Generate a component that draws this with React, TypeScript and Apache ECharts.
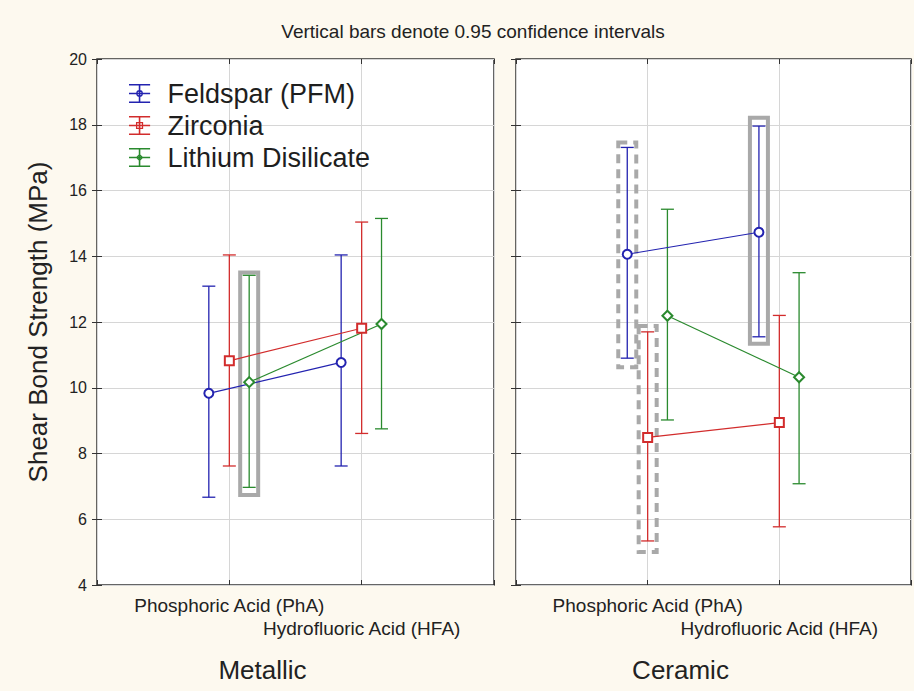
import React, { useEffect, useRef } from "react";
import * as echarts from "echarts";

// ---------- data ----------
const categories = ["Phosphoric Acid (PhA)", "Hydrofluoric Acid (HFA)"];
const panels = ["Metallic", "Ceramic"];
const materials = ["Feldspar (PFM)", "Zirconia", "Lithium Disilicate"];

// [panel][category]
const feldsparMean = [[9.83, 10.77], [14.06, 14.73]];
const feldsparLow = [[6.67, 7.62], [10.9, 11.55]];
const feldsparHigh = [[13.09, 14.04], [17.31, 17.96]];

const zirconiaMean = [[10.82, 11.81], [8.49, 8.94]];
const zirconiaLow = [[7.62, 8.61], [5.34, 5.77]];
const zirconiaHigh = [[14.04, 15.04], [11.7, 12.2]];

const lithiumMean = [[10.17, 11.94], [12.19, 10.32]];
const lithiumLow = [[6.97, 8.75], [9.02, 7.08]];
const lithiumHigh = [[13.42, 15.15], [15.43, 13.5]];

const yTicks = [4, 6, 8, 10, 12, 14, 16, 18, 20];

// highlight boxes: panel, category, material, top, bottom (MPa)
const highlightPanel = [0, 1, 1, 1];
const highlightCategory = [0, 1, 0, 0];
const highlightMaterial = [2, 0, 0, 1];
const highlightTop = [13.57, 18.27, 17.52, 11.94];
const highlightBottom = [6.68, 11.28, 10.56, 4.94];
const highlightDashed = [false, false, true, true];

// ---------- styling ----------
const colors = ["#2323b0", "#d22c2c", "#2a8a2e"];
const symbols = ["emptyCircle", "emptyRect", "emptyDiamond"];
const offsets = [-0.155, 0, 0.15];
const FONT = "'Liberation Sans', Arial, sans-serif";

const capsPath =
  "M0 0H20V1.5H0Z M0 16.5H20V18H0Z M0 8.25H20V9.75H0Z M9.25 0H10.75V18H9.25Z ";
const legendIcons = [
  "path://" + capsPath + "M13.2 9A3.2 3.2 0 1 1 6.8 9A3.2 3.2 0 1 1 13.2 9Z M12 9A2 2 0 1 0 8 9A2 2 0 1 0 12 9Z",
  "path://" + capsPath + "M6.6 5.6H13.4V12.4H6.6Z M7.8 6.8V11.2H12.2V6.8Z",
  "path://" + capsPath + "M10 5.4L13.6 9L10 12.6L6.4 9Z M10 7L8 9L10 11L12 9Z",
];

const meansAll = [feldsparMean, zirconiaMean, lithiumMean];
const lowsAll = [feldsparLow, zirconiaLow, lithiumLow];
const highsAll = [feldsparHigh, zirconiaHigh, lithiumHigh];

function buildOption() {
  const series: any[] = [];

  // highlight boxes
  for (let p = 0; p < panels.length; p++) {
    const boxData: any[] = [];
    highlightPanel.forEach((hp, i) => {
      if (hp !== p) return;
      boxData.push([
        highlightCategory[i] + 1 + offsets[highlightMaterial[i]],
        highlightTop[i],
        highlightBottom[i],
        highlightDashed[i] ? 1 : 0,
      ]);
    });
    series.push({
      type: "custom",
      xAxisIndex: p,
      yAxisIndex: p,
      silent: true,
      z: 1,
      data: boxData,
      encode: { x: 0, y: [1, 2] },
      renderItem: (params: any, api: any) => {
        const x = api.value(0);
        const a = api.coord([x, api.value(1)]);
        const b = api.coord([x, api.value(2)]);
        const dashed = api.value(3) === 1;
        return {
          type: "rect",
          shape: { x: a[0] - 9, y: a[1] + 2, width: 18, height: b[1] - a[1] - 4 },
          style: {
            fill: "none",
            stroke: "#a9a9a9",
            lineWidth: 4,
            lineDash: dashed ? [9, 6] : null,
          },
        };
      },
    });
  }

  for (let p = 0; p < panels.length; p++) {
    materials.forEach((m, k) => {
      const color = colors[k];
      const ebData = categories.map((c, ci) => [
        ci + 1 + offsets[k],
        lowsAll[k][p][ci],
        highsAll[k][p][ci],
      ]);
      series.push({
        type: "custom",
        name: m,
        xAxisIndex: p,
        yAxisIndex: p,
        z: 3,
        silent: true,
        itemStyle: { color },
        data: ebData,
        encode: { x: 0, y: [1, 2] },
        renderItem: (params: any, api: any) => {
          const x = api.value(0);
          const lo = api.coord([x, api.value(1)]);
          const hi = api.coord([x, api.value(2)]);
          const w = 6.5;
          const st = { stroke: color, lineWidth: 1.3 };
          return {
            type: "group",
            children: [
              { type: "line", shape: { x1: hi[0], y1: hi[1], x2: lo[0], y2: lo[1] }, style: st },
              { type: "line", shape: { x1: hi[0] - w, y1: hi[1], x2: hi[0] + w, y2: hi[1] }, style: st },
              { type: "line", shape: { x1: lo[0] - w, y1: lo[1], x2: lo[0] + w, y2: lo[1] }, style: st },
            ],
          };
        },
      });
      series.push({
        type: "line",
        name: m,
        xAxisIndex: p,
        yAxisIndex: p,
        z: 4,
        color,
        symbol: symbols[k],
        symbolSize: k === 2 ? 10 : 9,
        lineStyle: { width: 1.2, color },
        itemStyle: { color, borderWidth: 1.5 },
        data: categories.map((c, ci) => [ci + 1 + offsets[k], meansAll[k][p][ci]]),
      });
    });
  }

  const grids = [
    { left: 97, top: 59, width: 397, height: 526 },
    { left: 516, top: 59, width: 396, height: 526 },
  ].map((g) => ({
    ...g,
    show: true,
    backgroundColor: "#ffffff",
    borderColor: "#333333",
    borderWidth: 1.5,
  }));

  const xAxes: any[] = [];
  const yAxes: any[] = [];
  for (let p = 0; p < panels.length; p++) {
    xAxes.push({
      type: "value",
      gridIndex: p,
      position: "bottom",
      min: 0,
      max: 3,
      interval: 1,
      axisLine: { show: false },
      axisTick: { inside: true, length: 5, lineStyle: { color: "#333" } },
      splitLine: { show: true, lineStyle: { color: "#d6d6d6", width: 1 } },
      axisLabel: {
        margin: 9,
        fontSize: 19,
        color: "#222",
        fontFamily: FONT,
        lineHeight: 23,
        hideOverlap: false,
        formatter: (v: number) =>
          v === 1 ? categories[0] : v === 2 ? "\n" + categories[1] : "",
      },
      name: panels[p],
      nameLocation: "middle",
      nameGap: 72,
      nameTextStyle: { fontSize: 26, color: "#222", fontFamily: FONT, padding: [0, 66, 0, 0] },
    });
  }
  for (let p = 0; p < panels.length; p++) {
    xAxes.push({
      type: "value",
      gridIndex: p,
      position: "top",
      min: 0,
      max: 3,
      interval: 1,
      axisLine: { show: false },
      axisTick: { inside: true, length: 5, lineStyle: { color: "#333" } },
      splitLine: { show: false },
      axisLabel: { show: false },
    });
  }
  for (let p = 0; p < panels.length; p++) {
    yAxes.push({
      type: "value",
      gridIndex: p,
      position: "left",
      min: yTicks[0],
      max: yTicks[yTicks.length - 1],
      interval: yTicks[1] - yTicks[0],
      axisLine: { show: false },
      axisTick: { inside: true, length: 5, lineStyle: { color: "#333" } },
      splitLine: { show: true, lineStyle: { color: "#d6d6d6", width: 1 } },
      axisLabel: { show: p === 0, fontSize: 16, color: "#222", margin: 10, fontFamily: FONT },
      name: p === 0 ? "Shear Bond Strength (MPa)" : "",
      nameLocation: "middle",
      nameGap: 46,
      nameTextStyle: { fontSize: 26, color: "#222", fontFamily: FONT },
    });
  }
  for (let p = 0; p < panels.length; p++) {
    yAxes.push({
      type: "value",
      gridIndex: p,
      position: "right",
      min: yTicks[0],
      max: yTicks[yTicks.length - 1],
      interval: yTicks[1] - yTicks[0],
      axisLine: { show: false },
      axisTick: { inside: true, length: 5, lineStyle: { color: "#333" } },
      splitLine: { show: false },
      axisLabel: { show: false },
    });
  }

  return {
    animation: false,
    backgroundColor: "#fdf9ef",
    textStyle: { fontFamily: FONT },
    title: {
      text: "Vertical bars denote 0.95 confidence intervals",
      left: 468,
      top: 17,
      textAlign: "center",
      textStyle: { fontSize: 19, fontWeight: "normal", color: "#222", fontFamily: FONT },
    },
    legend: {
      orient: "vertical",
      left: 124,
      top: 75,
      itemWidth: 22,
      itemHeight: 19,
      itemGap: 5,
      selectedMode: false,
      textStyle: { fontSize: 27, color: "#1e1e1e", fontFamily: FONT, padding: [0, 0, 0, 12] },
      data: materials.map((m, k) => ({
        name: m,
        icon: legendIcons[k],
        itemStyle: { color: colors[k], borderWidth: 0 },
      })),
    },
    grid: grids,
    xAxis: xAxes,
    yAxis: yAxes,
    series,
  };
}

export default function App() {
  const ref = useRef<HTMLDivElement>(null);
  useEffect(() => {
    if (!ref.current) return;
    const chart = echarts.init(ref.current, null, { renderer: "svg" });
    chart.setOption(buildOption() as any);
    return () => chart.dispose();
  }, []);
  return (
    <div
      ref={ref}
      style={{ position: "absolute", left: 0, top: 0, width: 914, height: 691 }}
    />
  );
}
